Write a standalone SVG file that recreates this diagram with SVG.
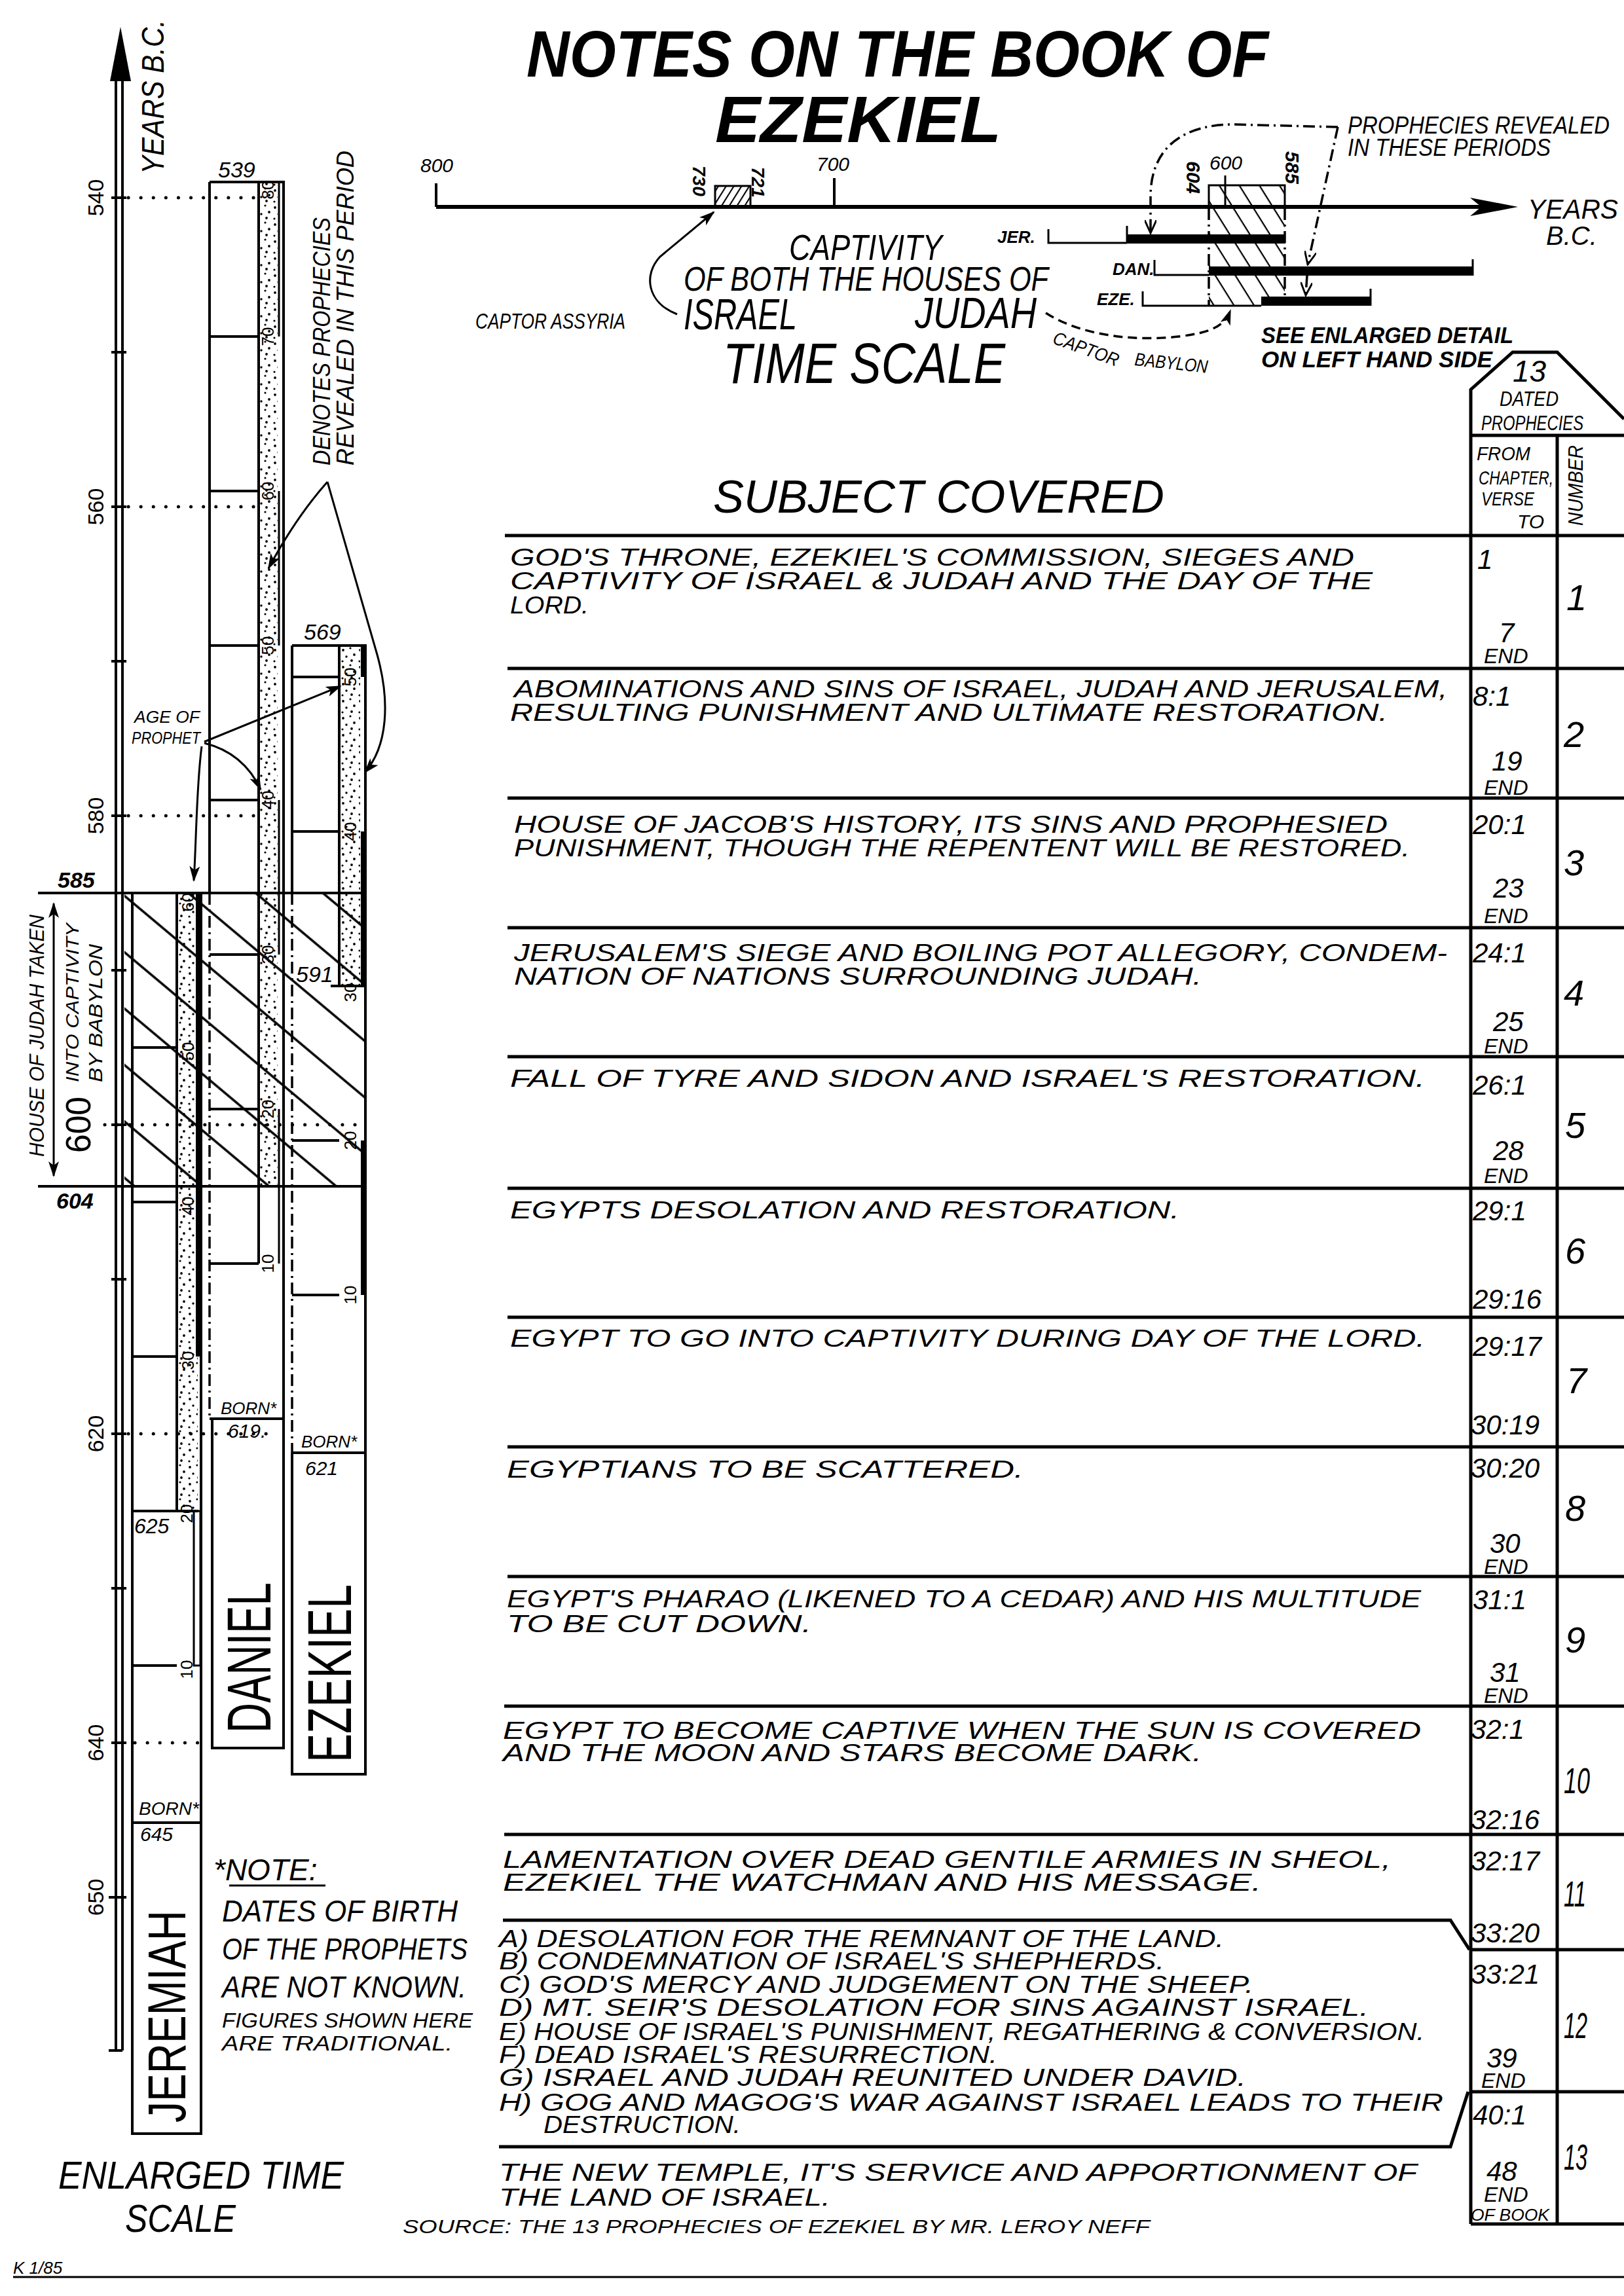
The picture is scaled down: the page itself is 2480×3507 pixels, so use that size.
<svg xmlns="http://www.w3.org/2000/svg" width="2480" height="3507" viewBox="0 0 2480 3507">
<style>
text{font-family:"Liberation Sans",Arial,sans-serif;font-style:italic;fill:#000}
.b{font-weight:bold}
.n{font-style:normal}
.l{stroke:#000;stroke-width:4;fill:none}
.l3{stroke:#000;stroke-width:3;fill:none}
.rl{stroke:#000;stroke-width:5;fill:none}
.dt{stroke:#000;stroke-width:5;fill:none;stroke-dasharray:0.1 19;stroke-linecap:round}
.dd{stroke:#000;stroke-width:3.5;fill:none;stroke-dasharray:18 7 3 7}
.ds{stroke:#000;stroke-width:3.5;fill:none;stroke-dasharray:14 8}
.age{font-size:26px;font-style:normal}
.s40{font-size:37px}
.ch{font-size:42px}
.end{font-size:32px}
.num{font-size:56px}
.bar{fill:#000}
</style>
<defs>
<pattern id="stip" patternUnits="userSpaceOnUse" width="26" height="26">
<circle cx="4" cy="5" r="1.9"/><circle cx="15" cy="2" r="1.6"/><circle cx="21" cy="12" r="1.9"/><circle cx="9" cy="15" r="1.7"/><circle cx="3" cy="22" r="1.6"/><circle cx="17" cy="21" r="1.9"/>
</pattern>
<pattern id="hb" patternUnits="userSpaceOnUse" width="40" height="66" patternTransform="rotate(40)"><line x1="-5" y1="2" x2="45" y2="2" stroke="#000" stroke-width="3.5"/></pattern>
<pattern id="ht" patternUnits="userSpaceOnUse" width="20" height="26" patternTransform="rotate(58)"><line x1="-2" y1="1" x2="22" y2="1" stroke="#000" stroke-width="2.5"/></pattern>
<pattern id="hs" patternUnits="userSpaceOnUse" width="20" height="10" patternTransform="rotate(-58)"><line x1="-2" y1="1" x2="22" y2="1" stroke="#000" stroke-width="2.2"/></pattern>
<marker id="af" viewBox="0 0 12 8" refX="11" refY="4" markerWidth="26" markerHeight="16" markerUnits="userSpaceOnUse" orient="auto-start-reverse"><path d="M0,0 L12,4 L0,8 L3,4 z" fill="#000"/></marker>
<marker id="ao" viewBox="0 0 12 10" refX="11" refY="5" markerWidth="22" markerHeight="18" markerUnits="userSpaceOnUse" orient="auto"><path d="M0,0 L11,5 L0,10" fill="none" stroke="#000" stroke-width="1.6"/></marker>
</defs>
<rect width="2480" height="3507" fill="#fff"/>

<g id="title">
<text x="804" y="117" font-size="100" class="b" textLength="1133" lengthAdjust="spacingAndGlyphs">NOTES ON THE BOOK OF</text>
<text x="1092" y="217" font-size="100" class="b" textLength="437" lengthAdjust="spacingAndGlyphs">EZEKIEL</text>
</g>

<g id="timeline-top">
<path class="l" d="M666,280 V316 M1274,272 V316" />
<path d="M666,316 H2262" stroke="#000" stroke-width="6"/>
<polygon points="2318,316 2245,302 2262,316 2245,330" fill="#000"/>
<text x="642" y="263" font-size="30">800</text>
<text x="1247" y="261" font-size="30">700</text>
<text x="2333" y="334" font-size="42" textLength="138" lengthAdjust="spacingAndGlyphs">YEARS</text>
<text x="2361" y="374" font-size="40">B.C.</text>
<rect x="1092" y="284" width="54" height="32" fill="url(#hs)" stroke="#000" stroke-width="3"/>
<text transform="translate(1058,253) rotate(90)" font-size="28" class="b">730</text>
<text transform="translate(1148,255) rotate(90)" font-size="28" class="b">721</text>
<rect x="1846" y="283" width="116" height="33" fill="url(#ht)" stroke="#000" stroke-width="3"/>
<rect x="1846" y="316" width="116" height="151" fill="url(#ht)"/>
<path class="l3" d="M1871,268 V316"/>
<path class="dd" d="M1846,318 V467 M1962,318 V467"/>
<text x="1847" y="259" font-size="30">600</text>
<text transform="translate(1812,246) rotate(90)" font-size="30" class="b">604</text>
<text transform="translate(1963,231) rotate(90)" font-size="30" class="b">585</text>
<text x="1523" y="371" font-size="26" class="b">JER.</text>
<path class="l3" d="M1601,350 V371 H1721 M1721,345 V371"/>
<rect x="1721" y="358" width="242" height="14" fill="#000"/>
<text x="1699" y="420" font-size="26" class="b">DAN.</text>
<path class="l3" d="M1763,397 V420 H1846 M2249,396 V421"/>
<rect x="1846" y="407" width="403" height="14" fill="#000"/>
<text x="1675" y="466" font-size="26" class="b">EZE.</text>
<path class="l3" d="M1745,445 V467 H1926 M2093,441 V467"/>
<rect x="1926" y="453" width="167" height="14" fill="#000"/>
<text x="2058" y="204" font-size="36" textLength="400" lengthAdjust="spacingAndGlyphs">PROPHECIES REVEALED</text>
<text x="2058" y="238" font-size="36" textLength="310" lengthAdjust="spacingAndGlyphs">IN THESE PERIODS</text>
<text x="1205" y="397" font-size="55" textLength="234" lengthAdjust="spacingAndGlyphs">CAPTIVITY</text>
<text x="1044" y="444" font-size="52" textLength="557" lengthAdjust="spacingAndGlyphs">OF BOTH THE HOUSES OF</text>
<text x="1044" y="503" font-size="66" textLength="173" lengthAdjust="spacingAndGlyphs">ISRAEL</text>
<text x="1397" y="501" font-size="66" textLength="186" lengthAdjust="spacingAndGlyphs">JUDAH</text>
<text x="726" y="502" font-size="34" textLength="229" lengthAdjust="spacingAndGlyphs">CAPTOR ASSYRIA</text>
<text x="1104" y="585" font-size="88" textLength="431" lengthAdjust="spacingAndGlyphs">TIME SCALE</text>
<text transform="translate(1606,524) rotate(20)" font-size="28" textLength="105" lengthAdjust="spacingAndGlyphs">CAPTOR</text>
<text transform="translate(1732,558) rotate(6)" font-size="28" textLength="112" lengthAdjust="spacingAndGlyphs">BABYLON</text>
<text x="1926" y="524" font-size="35" class="b" textLength="385" lengthAdjust="spacingAndGlyphs">SEE ENLARGED DETAIL</text>
<text x="1926" y="561" font-size="35" class="b" textLength="353" lengthAdjust="spacingAndGlyphs">ON LEFT HAND SIDE</text>
</g>

<g id="axis-left">
<path class="l" d="M177,124 V3132 M187,124 V3132"/>
<polygon points="184,41 168,124 200,124" fill="#000"/>
<path class="l" d="M170,302 H193 M170,538 H193 M170,774 H193 M170,1010 H193 M170,1246 H193 M170,1482 H193 M170,1718 H193 M170,1954 H193 M170,2190 H193 M170,2426 H193 M170,2662 H193 M166,2898 H193 M166,3132 H187"/>
<text transform="translate(250,266) rotate(-90)" font-size="48" textLength="236" lengthAdjust="spacingAndGlyphs">YEARS B.C.</text>
<text transform="translate(158,302) rotate(-90)" text-anchor="middle" font-size="34" class="n">540</text>
<text transform="translate(158,774) rotate(-90)" text-anchor="middle" font-size="34" class="n">560</text>
<text transform="translate(158,1246) rotate(-90)" text-anchor="middle" font-size="34" class="n">580</text>
<text transform="translate(158,2190) rotate(-90)" text-anchor="middle" font-size="34" class="n">620</text>
<text transform="translate(158,2662) rotate(-90)" text-anchor="middle" font-size="34" class="n">640</text>
<text transform="translate(158,2898) rotate(-90)" text-anchor="middle" font-size="34" class="n">650</text>
<path class="dt" d="M196,302 H390 M196,774 H395 M196,1246 H390 M160,1718 H545 M196,2190 H415 M206,2662 H306"/>
</g>

<g id="captivity-band">
<rect x="190" y="1366" width="368" height="444" fill="url(#hb)"/>
<path class="l" d="M58,1364 H558 M58,1812 H558"/>
<path class="l3" d="M82,1380 V1796" marker-start="url(#af)" marker-end="url(#af)"/>
<text x="88" y="1356" font-size="34" class="b">585</text>
<text x="86" y="1846" font-size="34" class="b">604</text>
<text transform="translate(67,1767) rotate(-90)" font-size="31" textLength="370" lengthAdjust="spacingAndGlyphs">HOUSE OF JUDAH TAKEN</text>
<text transform="translate(120,1653) rotate(-90)" font-size="28" textLength="243" lengthAdjust="spacingAndGlyphs">INTO CAPTIVITY</text>
<text transform="translate(156,1653) rotate(-90)" font-size="30" textLength="211" lengthAdjust="spacingAndGlyphs">BY BABYLON</text>
<text transform="translate(138,1761) rotate(-90)" font-size="53" class="n" textLength="86" lengthAdjust="spacingAndGlyphs">600</text>
</g>

<g id="jeremiah">
<rect x="270" y="1366" width="32" height="942" fill="url(#stip)"/>
<path class="l" d="M202,1364 V3259 H307 V1364 M270,1364 V2308 M202,1600 H270 M202,1836 H270 M202,2072 H270 M202,2308 H303 M202,2544 H270 M202,2784 H307"/>
<rect x="299" y="1364" width="8" height="708" class="bar"/>
<rect x="296" y="2308" width="10" height="236" fill="none" stroke="#000" stroke-width="3"/>
<text transform="translate(296,1378) rotate(-90)" text-anchor="middle" class="age">60</text>
<text transform="translate(296,1606) rotate(-90)" text-anchor="middle" class="age">50</text>
<text transform="translate(296,1842) rotate(-90)" text-anchor="middle" class="age">40</text>
<text transform="translate(296,2078) rotate(-90)" text-anchor="middle" class="age">30</text>
<text transform="translate(294,2312) rotate(-90)" text-anchor="middle" class="age">20</text>
<text transform="translate(294,2550) rotate(-90)" text-anchor="middle" class="age">10</text>
<text x="205" y="2342" font-size="32">625</text>
<text x="212" y="2772" font-size="28">BORN*</text>
<text x="214" y="2812" font-size="30">645</text>
<text transform="translate(283,3242) rotate(-90)" font-size="82" class="n" textLength="324" lengthAdjust="spacingAndGlyphs">JEREMIAH</text>
</g>

<g id="daniel">
<rect x="395" y="280" width="29" height="1532" fill="url(#stip)"/>
<path class="l" d="M320,278 H433 V2670 H324 V2167 M320,278 V1364 M395,278 V1930 M320,514 H395 M320,750 H395 M320,986 H395 M320,1222 H395 M320,1458 H395 M320,1694 H395 M320,1930 H395 M320,2167 H433"/>
<path class="dd" d="M320,1364 V2167"/>
<path d="M426,278 V514 M426,750 V986 M426,1222 V1458 M426,1694 V1930" stroke="#000" stroke-width="3"/>
<text transform="translate(418,290) rotate(-90)" text-anchor="middle" class="age">80</text>
<text transform="translate(418,514) rotate(-90)" text-anchor="middle" class="age">70</text>
<text transform="translate(418,750) rotate(-90)" text-anchor="middle" class="age">60</text>
<text transform="translate(418,986) rotate(-90)" text-anchor="middle" class="age">50</text>
<text transform="translate(418,1222) rotate(-90)" text-anchor="middle" class="age">40</text>
<text transform="translate(418,1458) rotate(-90)" text-anchor="middle" class="age">30</text>
<text transform="translate(418,1694) rotate(-90)" text-anchor="middle" class="age">20</text>
<text transform="translate(418,1930) rotate(-90)" text-anchor="middle" class="age">10</text>
<text x="333" y="271" font-size="34">539</text>
<text x="337" y="2160" font-size="26">BORN*</text>
<text x="348" y="2196" font-size="30">619.</text>
<text transform="translate(413,2647) rotate(-90)" font-size="95" class="n" textLength="230" lengthAdjust="spacingAndGlyphs">DANIEL</text>
</g>

<g id="ezekiel">
<rect x="518" y="988" width="32" height="518" fill="url(#stip)"/>
<path class="l" d="M446,986 H558 V2710 H446 V2219 M446,986 V1364 M518,986 V1506 M505,1506 H558 M446,1034 H518 M446,1270 H518 M446,1742 H518 M446,1978 H518 M446,2219 H558"/>
<path class="dd" d="M446,1364 V2219"/>
<rect x="551" y="986" width="7" height="48" class="bar"/>
<rect x="551" y="1270" width="7" height="236" class="bar"/>
<rect x="551" y="1742" width="7" height="236" class="bar"/>
<text transform="translate(544,1034) rotate(-90)" text-anchor="middle" class="age">50</text>
<text transform="translate(544,1270) rotate(-90)" text-anchor="middle" class="age">40</text>
<text transform="translate(544,1516) rotate(-90)" text-anchor="middle" class="age">30</text>
<text transform="translate(544,1742) rotate(-90)" text-anchor="middle" class="age">20</text>
<text transform="translate(544,1978) rotate(-90)" text-anchor="middle" class="age">10</text>
<text x="464" y="977" font-size="34">569</text>
<text x="452" y="1500" font-size="34">591</text>
<text x="460" y="2211" font-size="26">BORN*</text>
<text x="466" y="2253" font-size="30">621</text>
<text transform="translate(536,2692) rotate(-90)" font-size="95" class="n" textLength="272" lengthAdjust="spacingAndGlyphs">EZEKIEL</text>
</g>

<g id="labels-left">
<text transform="translate(504,711) rotate(-90)" font-size="36" textLength="379" lengthAdjust="spacingAndGlyphs">DENOTES PROPHECIES</text>
<text transform="translate(540,711) rotate(-90)" font-size="36" textLength="481" lengthAdjust="spacingAndGlyphs">REVEALED IN THIS PERIOD</text>
<text x="205" y="1104" font-size="26" textLength="100" lengthAdjust="spacingAndGlyphs">AGE OF</text>
<text x="201" y="1136" font-size="26" textLength="105" lengthAdjust="spacingAndGlyphs">PROPHET</text>
</g>

<g id="notes">
<text x="326" y="2872" font-size="46">*NOTE:</text>
<path class="l3" d="M350,2880 H497"/>
<text x="339" y="2935" font-size="46" textLength="360" lengthAdjust="spacingAndGlyphs">DATES OF BIRTH</text>
<text x="339" y="2993" font-size="46" textLength="375" lengthAdjust="spacingAndGlyphs">OF THE PROPHETS</text>
<text x="339" y="3051" font-size="46" textLength="373" lengthAdjust="spacingAndGlyphs">ARE NOT KNOWN.</text>
<text x="339" y="3097" font-size="32" textLength="383" lengthAdjust="spacingAndGlyphs">FIGURES SHOWN HERE</text>
<text x="339" y="3132" font-size="32" textLength="352" lengthAdjust="spacingAndGlyphs">ARE TRADITIONAL.</text>
<text x="89" y="3343" font-size="60" textLength="436" lengthAdjust="spacingAndGlyphs">ENLARGED TIME</text>
<text x="191" y="3409" font-size="60" textLength="169" lengthAdjust="spacingAndGlyphs">SCALE</text>
<text x="20" y="3473" font-size="26">K 1/85</text>
<path class="l3" d="M20,3478 H2480"/>
</g>

<g id="table-header">
<text x="1089" y="783" font-size="70" textLength="689" lengthAdjust="spacingAndGlyphs">SUBJECT COVERED</text>
<path class="rl" d="M2246,818 V595 L2310,538 H2378 L2480,640 M2246,665 H2480 M2378,665 V3397"/>
<text x="2310" y="583" font-size="46">13</text>
<text x="2290" y="620" font-size="32" textLength="90" lengthAdjust="spacingAndGlyphs">DATED</text>
<text x="2262" y="657" font-size="32" textLength="156" lengthAdjust="spacingAndGlyphs">PROPHECIES</text>
<text x="2255" y="703" font-size="30" textLength="82" lengthAdjust="spacingAndGlyphs">FROM</text>
<text x="2258" y="740" font-size="30" textLength="114" lengthAdjust="spacingAndGlyphs">CHAPTER,</text>
<text x="2262" y="772" font-size="30" textLength="81" lengthAdjust="spacingAndGlyphs">VERSE</text>
<text x="2317" y="807" font-size="30">TO</text>
<text transform="translate(2417,803) rotate(-90)" font-size="32" textLength="123" lengthAdjust="spacingAndGlyphs">NUMBER</text>
</g>

<g id="table-grid">
<path class="rl" d="M771,818 H2480 M775,1021 H2480 M775,1219 H2480 M775,1417 H2480 M775,1614 H2480 M775,1815 H2480 M775,2012 H2480 M775,2210 H2480 M775,2408 H2480 M770,2606 H2480 M770,2802 H2480 M2246,2978 H2480 M2246,3195 H2480 M2246,3397 H2480 M2246,818 V3397"/>
<path class="rl" d="M768,2933 H2215 L2244,2978 M762,3279 H2215 L2242,3195"/>
</g>

<g id="row1">
<text x="779" y="864" class="s40" textLength="1289" lengthAdjust="spacingAndGlyphs">GOD'S THRONE, EZEKIEL'S COMMISSION, SIEGES AND</text>
<text x="779" y="900" class="s40" textLength="1317" lengthAdjust="spacingAndGlyphs">CAPTIVITY OF ISRAEL &amp; JUDAH AND THE DAY OF THE</text>
<text x="779" y="937" class="s40" textLength="120" lengthAdjust="spacingAndGlyphs">LORD.</text>
<text x="2256" y="869" class="ch">1</text><text x="2289" y="981" class="ch">7</text><text x="2266" y="1013" class="end">END</text>
<text x="2392" y="932" class="num">1</text>
</g>
<g id="row2">
<text x="785" y="1065" class="s40" textLength="1425" lengthAdjust="spacingAndGlyphs">ABOMINATIONS AND SINS OF ISRAEL, JUDAH AND JERUSALEM,</text>
<text x="779" y="1101" class="s40" textLength="1340" lengthAdjust="spacingAndGlyphs">RESULTING PUNISHMENT AND ULTIMATE RESTORATION.</text>
<text x="2249" y="1078" class="ch">8:1</text><text x="2278" y="1177" class="ch">19</text><text x="2266" y="1214" class="end">END</text>
<text x="2388" y="1141" class="num">2</text>
</g>
<g id="row3">
<text x="785" y="1272" class="s40" textLength="1334" lengthAdjust="spacingAndGlyphs">HOUSE OF JACOB'S HISTORY, ITS SINS AND PROPHESIED</text>
<text x="785" y="1308" class="s40" textLength="1368" lengthAdjust="spacingAndGlyphs">PUNISHMENT, THOUGH THE REPENTENT WILL BE RESTORED.</text>
<text x="2249" y="1274" class="ch">20:1</text><text x="2280" y="1371" class="ch">23</text><text x="2266" y="1410" class="end">END</text>
<text x="2388" y="1337" class="num">3</text>
</g>
<g id="row4">
<text x="785" y="1468" class="s40" textLength="1425" lengthAdjust="spacingAndGlyphs">JERUSALEM'S SIEGE AND BOILING POT ALLEGORY, CONDEM-</text>
<text x="785" y="1504" class="s40" textLength="1050" lengthAdjust="spacingAndGlyphs">NATION OF NATIONS SURROUNDING JUDAH.</text>
<text x="2249" y="1470" class="ch">24:1</text><text x="2280" y="1575" class="ch">25</text><text x="2266" y="1609" class="end">END</text>
<text x="2388" y="1536" class="num">4</text>
</g>
<g id="row5">
<text x="779" y="1660" class="s40" textLength="1397" lengthAdjust="spacingAndGlyphs">FALL OF TYRE AND SIDON AND ISRAEL'S RESTORATION.</text>
<text x="2249" y="1672" class="ch">26:1</text><text x="2280" y="1772" class="ch">28</text><text x="2266" y="1807" class="end">END</text>
<text x="2390" y="1738" class="num">5</text>
</g>
<g id="row6">
<text x="779" y="1861" class="s40" textLength="1022" lengthAdjust="spacingAndGlyphs">EGYPTS DESOLATION AND RESTORATION.</text>
<text x="2249" y="1864" class="ch">29:1</text><text x="2249" y="1999" class="ch">29:16</text>
<text x="2390" y="1930" class="num">6</text>
</g>
<g id="row7">
<text x="779" y="2057" class="s40" textLength="1397" lengthAdjust="spacingAndGlyphs">EGYPT TO GO INTO CAPTIVITY DURING DAY OF THE LORD.</text>
<text x="2249" y="2071" class="ch">29:17</text><text x="2246" y="2191" class="ch">30:19</text>
<text x="2392" y="2128" class="num">7</text>
</g>
<g id="row8">
<text x="774" y="2257" class="s40" textLength="789" lengthAdjust="spacingAndGlyphs">EGYPTIANS TO BE SCATTERED.</text>
<text x="2246" y="2257" class="ch">30:20</text><text x="2275" y="2372" class="ch">30</text><text x="2266" y="2404" class="end">END</text>
<text x="2390" y="2323" class="num">8</text>
</g>
<g id="row9">
<text x="774" y="2455" class="s40" textLength="1396" lengthAdjust="spacingAndGlyphs">EGYPT'S PHARAO (LIKENED TO A CEDAR) AND HIS MULTITUDE</text>
<text x="774" y="2493" class="s40" textLength="465" lengthAdjust="spacingAndGlyphs">TO BE CUT DOWN.</text>
<text x="2249" y="2458" class="ch">31:1</text><text x="2275" y="2569" class="ch">31</text><text x="2266" y="2601" class="end">END</text>
<text x="2390" y="2524" class="num">9</text>
</g>
<g id="row10">
<text x="768" y="2656" class="s40" textLength="1402" lengthAdjust="spacingAndGlyphs">EGYPT TO BECOME CAPTIVE WHEN THE SUN IS COVERED</text>
<text x="768" y="2690" class="s40" textLength="1067" lengthAdjust="spacingAndGlyphs">AND THE MOON AND STARS BECOME DARK.</text>
<text x="2246" y="2656" class="ch">32:1</text><text x="2246" y="2794" class="ch">32:16</text>
<text x="2388" y="2739" class="num" textLength="40" lengthAdjust="spacingAndGlyphs">10</text>
</g>
<g id="row11">
<text x="768" y="2853" class="s40" textLength="1356" lengthAdjust="spacingAndGlyphs">LAMENTATION OVER DEAD GENTILE ARMIES IN SHEOL,</text>
<text x="768" y="2888" class="s40" textLength="1158" lengthAdjust="spacingAndGlyphs">EZEKIEL THE WATCHMAN AND HIS MESSAGE.</text>
<text x="2246" y="2857" class="ch">32:17</text><text x="2246" y="2967" class="ch">33:20</text>
<text x="2388" y="2912" class="num" textLength="34" lengthAdjust="spacingAndGlyphs">11</text>
</g>
<g id="row12">
<text x="762" y="2974" class="s40" textLength="1107" lengthAdjust="spacingAndGlyphs">A) DESOLATION FOR THE REMNANT OF THE LAND.</text>
<text x="762" y="3008" class="s40" textLength="1016" lengthAdjust="spacingAndGlyphs">B) CONDEMNATION OF ISRAEL'S SHEPHERDS.</text>
<text x="762" y="3044" class="s40" textLength="1152" lengthAdjust="spacingAndGlyphs">C) GOD'S MERCY AND JUDGEMENT ON THE SHEEP.</text>
<text x="762" y="3079" class="s40" textLength="1328" lengthAdjust="spacingAndGlyphs">D) MT. SEIR'S DESOLATION FOR SINS AGAINST ISRAEL.</text>
<text x="762" y="3116" class="s40" textLength="1413" lengthAdjust="spacingAndGlyphs">E) HOUSE OF ISRAEL'S PUNISHMENT, REGATHERING &amp; CONVERSION.</text>
<text x="762" y="3151" class="s40" textLength="761" lengthAdjust="spacingAndGlyphs">F) DEAD ISRAEL'S RESURRECTION.</text>
<text x="762" y="3186" class="s40" textLength="1141" lengthAdjust="spacingAndGlyphs">G) ISRAEL AND JUDAH REUNITED UNDER DAVID.</text>
<text x="762" y="3224" class="s40" textLength="1442" lengthAdjust="spacingAndGlyphs">H) GOG AND MAGOG'S WAR AGAINST ISRAEL LEADS TO THEIR</text>
<text x="830" y="3258" class="s40" textLength="301" lengthAdjust="spacingAndGlyphs">DESTRUCTION.</text>
<text x="2246" y="3030" class="ch">33:21</text><text x="2270" y="3158" class="ch">39</text><text x="2262" y="3189" class="end">END</text>
<text x="2388" y="3113" class="num" textLength="36" lengthAdjust="spacingAndGlyphs">12</text>
</g>
<g id="row13">
<text x="762" y="3331" class="s40" textLength="1402" lengthAdjust="spacingAndGlyphs">THE NEW TEMPLE, IT'S SERVICE AND APPORTIONMENT OF</text>
<text x="762" y="3369" class="s40" textLength="506" lengthAdjust="spacingAndGlyphs">THE LAND OF ISRAEL.</text>
<text x="2249" y="3245" class="ch">40:1</text><text x="2270" y="3331" class="ch">48</text><text x="2266" y="3363" class="end">END</text>
<text x="2246" y="3392" font-size="26" textLength="120" lengthAdjust="spacingAndGlyphs">OF BOOK</text>
<text x="2388" y="3314" class="num" textLength="36" lengthAdjust="spacingAndGlyphs">13</text>
<text x="615" y="3411" font-size="30" textLength="1141" lengthAdjust="spacingAndGlyphs">SOURCE: THE 13 PROPHECIES OF EZEKIEL BY MR. LEROY NEFF</text>
</g>

<g id="connectors">
<path class="dd" d="M2043,194 L1880,190 C1790,192 1757,240 1757,300 L1757,356" marker-end="url(#ao)"/>
<path class="dd" d="M2043,194 L1997,404" marker-end="url(#ao)"/>
<path class="dd" d="M1996,421 L1994,451" marker-end="url(#ao)"/>
<path class="ds" d="M1597,478 C1650,512 1730,522 1800,514 C1850,508 1870,498 1879,474" marker-end="url(#af)"/>
<path class="l3" d="M1034,480 C988,462 982,420 1008,392 L1090,324" marker-end="url(#af)"/>
<path class="l3" d="M312,1133 L520,1048" marker-end="url(#af)"/>
<path class="l3" d="M312,1135 Q372,1150 398,1206" marker-end="url(#af)"/>
<path class="l3" d="M308,1140 C300,1200 300,1280 296,1345" marker-end="url(#af)"/>
<path class="l3" d="M500,736 Q452,790 410,868" marker-end="url(#af)"/>
<path class="l3" d="M500,736 L576,1000 C596,1072 592,1140 557,1180" marker-end="url(#af)"/>
</g>
</svg>
